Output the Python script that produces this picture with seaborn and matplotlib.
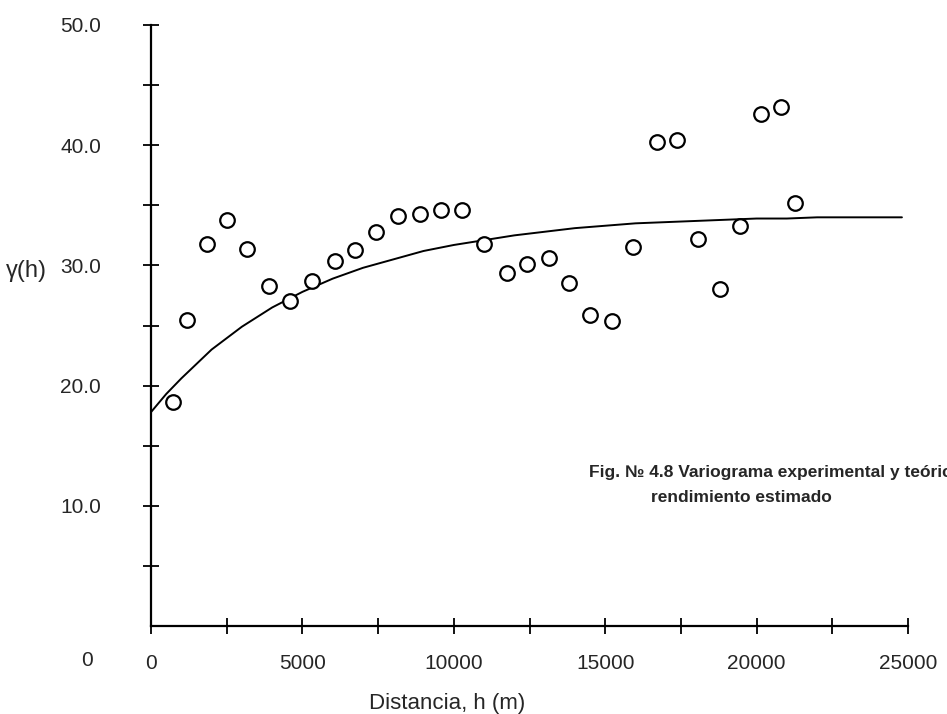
import matplotlib
matplotlib.use("Agg")
import matplotlib.pyplot as plt
import seaborn as sns
import numpy as np
import pandas as pd

# experimental variogram (lag distance in m, semivariance)
lag_h = [740, 1180, 1840, 2500, 3160, 3910, 4590, 5310, 6060, 6720,
         7430, 8170, 8890, 9580, 10280, 11000, 11750, 12410, 13150, 13790,
         14500, 15240, 15910, 16700, 17370, 18080, 18800, 19460, 20150, 20800,
         21270]
gamma_exp = [18.6, 25.5, 31.8, 33.8, 31.4, 28.3, 27.0, 28.7, 30.4, 31.3,
             32.8, 34.1, 34.3, 34.6, 34.6, 31.8, 29.4, 30.1, 30.6, 28.5,
             25.9, 25.4, 31.5, 40.3, 40.4, 32.2, 28.0, 33.3, 42.6, 43.2,
             35.2]

# theoretical model
model_h = [0, 500, 1000, 1500, 2000, 3000, 4000, 5000, 6000, 7000, 8000,
           9000, 10000, 11000, 12000, 13000, 14000, 15000, 16000, 17000,
           18000, 19000, 20000, 21000, 22000, 23000, 24000, 24800]
gamma_model = [17.8, 19.3, 20.6, 21.8, 23.0, 24.9, 26.5, 27.8, 28.9, 29.8,
               30.5, 31.2, 31.7, 32.1, 32.5, 32.8, 33.1, 33.3, 33.5, 33.6,
               33.7, 33.8, 33.9, 33.9, 34.0, 34.0, 34.0, 34.0]

y_ticks = [10, 20, 30, 40, 50]
y_labels = ["10.0", "20.0", "30.0", "40.0", "50.0"]
x_ticks = [0, 5000, 10000, 15000, 20000, 25000]
x_labels = ["0", "5000", "10000", "15000", "20000", "25000"]

sns.set_style("white")
plt.rcParams["font.family"] = ["Liberation Sans", "DejaVu Sans"]

df_exp = pd.DataFrame({"h": lag_h, "gamma": gamma_exp})
df_mod = pd.DataFrame({"h": model_h, "gamma": gamma_model})

fig = plt.figure(figsize=(9.47, 7.14), dpi=100)
ax = fig.add_axes([0.1595, 0.1232, 0.7993, 0.8418])

sns.lineplot(data=df_mod, x="h", y="gamma", ax=ax, color="black",
             linewidth=1.4, estimator=None)
sns.scatterplot(data=df_exp, x="h", y="gamma", ax=ax, s=110,
                facecolor="white", edgecolor="black", linewidth=1.6,
                zorder=3)

ax.set_xlim(0, 25000)
ax.set_ylim(0, 50)
for side in ["top", "right"]:
    ax.spines[side].set_visible(False)
for side in ["left", "bottom"]:
    ax.spines[side].set_linewidth(1.6)
    ax.spines[side].set_color("black")

ax.set_xticks(x_ticks)
ax.set_xticklabels(x_labels)
ax.set_xticks(np.arange(2500, 25000, 5000), minor=True)
ax.set_yticks(y_ticks)
ax.set_yticklabels(y_labels)
ax.set_yticks(np.arange(5, 50, 10), minor=True)

ax.tick_params(axis="both", which="both", direction="inout", length=12,
               width=1.3, color="black", labelsize=15,
               bottom=True, left=True, top=False, right=False)
ax.tick_params(axis="x", which="major", pad=14)
ax.tick_params(axis="y", which="major", pad=30)
ax.set_xlabel("")
ax.set_ylabel("")

# the y "0" sits on the row of the x tick labels
ax.text(-0.085, -0.057, "0", transform=ax.transAxes, fontsize=15,
        ha="center", va="center")

fig.text(447 / 947, 1 - 703 / 714, "Distancia, h (m)", fontsize=16,
         ha="center", va="center")
fig.text(26 / 947, 1 - 271 / 714, "γ(h)", fontsize=17,
         ha="center", va="center")

# caption runs off the right edge, as in the source figure
fig.text(589 / 947, 1 - 472 / 714,
         "Fig. № 4.8 Variograma experimental y teórico", fontsize=12.5,
         fontweight="bold", ha="left", va="center")
fig.text(741 / 947, 1 - 498 / 714, "rendimiento estimado", fontsize=12.5,
         fontweight="bold", ha="center", va="center")

fig.savefig("out.png", dpi=100)
